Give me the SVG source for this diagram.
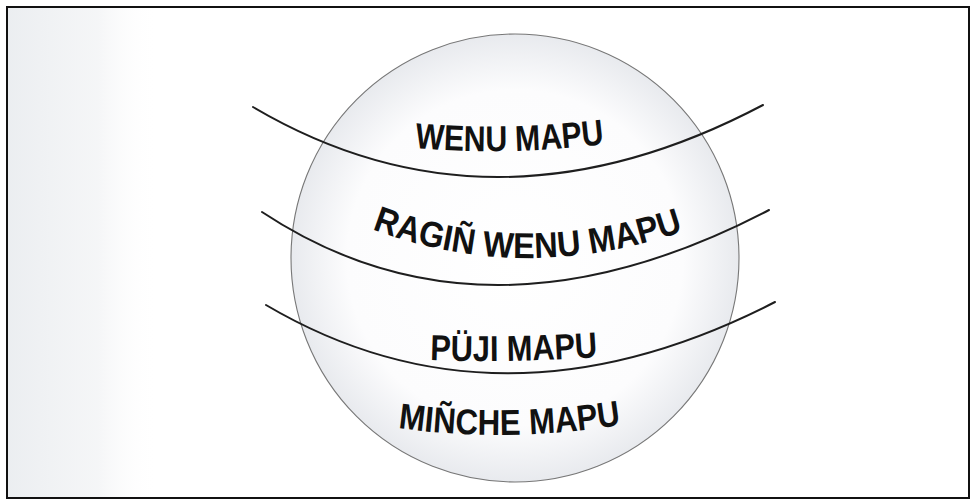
<svg xmlns="http://www.w3.org/2000/svg" xmlns:xlink="http://www.w3.org/1999/xlink" width="971" height="503" viewBox="0 0 971 503">
<style>
.layer{font-family:"Liberation Sans",Arial,sans-serif;font-weight:bold;font-size:36px;fill:#111}
.band{fill:none;stroke:#1e1e1e;stroke-width:2;stroke-linecap:round}
</style>
<defs>
<radialGradient id="globe" cx="0.5" cy="0.5" r="0.5">
<stop offset="0" stop-color="#ffffff"/>
<stop offset="0.75" stop-color="#fcfcfd"/>
<stop offset="1" stop-color="#e8eaee"/>
</radialGradient>
<linearGradient id="smudge" x1="0" y1="0" x2="1" y2="0">
<stop offset="0" stop-color="#e9ecef" stop-opacity="0.9"/>
<stop offset="0.6" stop-color="#eef0f2" stop-opacity="0.6"/>
<stop offset="1" stop-color="#ffffff" stop-opacity="0"/>
</linearGradient>
<path id="p1" d="M 415 148 Q 505 156 606 144"/>
<path id="p2" d="M 372 229 Q 522 286 684 231"/>
<path id="p3" d="M 430 360 Q 512 363 598 357"/>
<path id="p4" d="M 398 428 Q 505 443 622 425"/>
</defs>
<rect x="0" y="0" width="971" height="503" fill="#ffffff"/>
<rect x="8" y="8" width="150" height="490" fill="url(#smudge)"/>
<rect x="7" y="7" width="962" height="491" fill="none" stroke="#111" stroke-width="2"/>
<g id="globe-outline">
<circle cx="515" cy="258" r="224" fill="url(#globe)" stroke="#777" stroke-width="1.1"/>
</g>
<g id="connectors">
<path class="band" d="M 253 107 Q 492 248 763 105"/>
<path class="band" d="M 262 212 Q 484 359 769 210"/>
<path class="band" d="M 266 305 Q 500 443 775 302"/>
</g>
<g id="wenu-mapu">
<text class="layer"><textPath xlink:href="#p1" textLength="190" lengthAdjust="spacingAndGlyphs">WENU MAPU</textPath></text>
</g>
<g id="ragin-wenu-mapu">
<text class="layer"><textPath xlink:href="#p2" textLength="318" lengthAdjust="spacingAndGlyphs">RAGIÑ WENU MAPU</textPath></text>
</g>
<g id="puji-mapu">
<text class="layer"><textPath xlink:href="#p3" textLength="168" lengthAdjust="spacingAndGlyphs">PÜJI MAPU</textPath></text>
</g>
<g id="minche-mapu">
<text class="layer"><textPath xlink:href="#p4" textLength="224" lengthAdjust="spacingAndGlyphs">MIÑCHE MAPU</textPath></text>
</g>
</svg>
